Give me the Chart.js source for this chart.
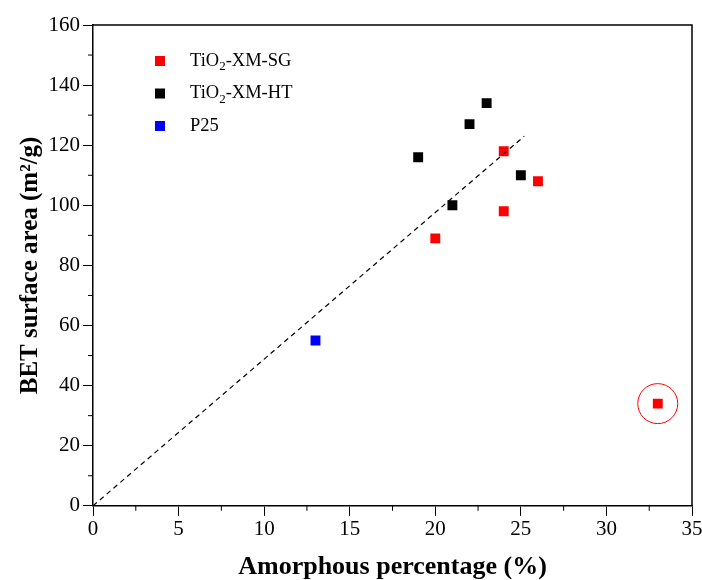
<!DOCTYPE html>
<html>
<head>
<meta charset="utf-8">
<script src="https://cdn.jsdelivr.net/npm/chart.js@4/dist/chart.umd.min.js"></script>
<style>
  html, body { margin: 0; background: #fff; overflow: hidden; }
  #wrap { width: 702px; height: 580px; overflow: hidden; }
</style>
</head>
<body>
<div id="wrap"><canvas id="chart" width="713" height="580"></canvas></div>
<script>
// Values
const sgX = [20, 24, 24, 26, 33];
const sgY = [89, 118, 98, 108, 34];
const htX = [19, 21, 22, 23, 25];
const htY = [116, 100, 127, 134, 110];
const p25X = [13];
const p25Y = [55];
const fitX = [0, 25.2];
const fitY = [0, 123];
const circledX = [33];
const circledY = [34];

const xMinorTicks = [2.5, 7.5, 12.5, 17.5, 22.5, 27.5, 32.5];
const yMinorTicks = [10, 30, 50, 70, 90, 110, 130, 150];

// legend entries: base text, subscript, rest
const legendItems = [
    { base: 'TiO', sub: '2', rest: '-XM-SG', color: '#ff0000' },
    { base: 'TiO', sub: '2', rest: '-XM-HT', color: '#000000' },
    { base: 'P25', sub: '', rest: '', color: '#0000ff' }
];

const serif = '"Liberation Serif", "DejaVu Serif", serif';

function toPoints(xs, ys) {
    return xs.map((x, i) => ({ x: x, y: ys[i] }));
}

// Frame, minor ticks and the inside legend
const decorPlugin = {
    id: 'decor',
    afterDraw(chart) {
        const ctx = chart.ctx;
        const a = chart.chartArea;
        const xs = chart.scales.x;
        const ys = chart.scales.y;
        ctx.save();
        ctx.strokeStyle = '#000';
        ctx.lineWidth = 1.5;
        ctx.beginPath();
        ctx.moveTo(a.left, a.top);
        ctx.lineTo(a.right, a.top);
        ctx.lineTo(a.right, a.bottom);
        ctx.stroke();

        ctx.lineWidth = 1;
        ctx.beginPath();
        xMinorTicks.forEach(v => {
            const px = xs.getPixelForValue(v);
            ctx.moveTo(px, a.bottom);
            ctx.lineTo(px, a.bottom + 5);
        });
        yMinorTicks.forEach(v => {
            const py = ys.getPixelForValue(v);
            ctx.moveTo(a.left, py);
            ctx.lineTo(a.left - 5, py);
        });
        ctx.stroke();

        // legend
        ctx.textBaseline = 'middle';
        legendItems.forEach((item, i) => {
            const my = a.top + 36 + i * 32.5;
            const mx = a.left + 67;
            ctx.fillStyle = item.color;
            ctx.fillRect(mx - 5, my - 5, 10, 10);
            ctx.fillStyle = '#000';
            let tx = a.left + 97;
            ctx.font = '18.5px ' + serif;
            ctx.fillText(item.base, tx, my);
            tx += ctx.measureText(item.base).width;
            if (item.sub) {
                ctx.font = '13px ' + serif;
                ctx.fillText(item.sub, tx, my + 6);
                tx += ctx.measureText(item.sub).width;
            }
            ctx.font = '18.5px ' + serif;
            ctx.fillText(item.rest, tx, my);
        });
        ctx.restore();
    }
};

new Chart(document.getElementById('chart'), {
    type: 'scatter',
    data: {
        datasets: [
            {
                label: 'fit',
                type: 'line',
                data: toPoints(fitX, fitY),
                borderColor: '#000',
                borderWidth: 1.2,
                borderDash: [5, 4],
                pointRadius: 0,
                fill: false
            },
            {
                label: 'TiO2-XM-SG',
                data: toPoints(sgX, sgY),
                pointStyle: 'rect',
                pointRadius: 7,
                backgroundColor: '#ff0000',
                borderWidth: 0
            },
            {
                label: 'TiO2-XM-HT',
                data: toPoints(htX, htY),
                pointStyle: 'rect',
                pointRadius: 7,
                backgroundColor: '#000000',
                borderWidth: 0
            },
            {
                label: 'P25',
                data: toPoints(p25X, p25Y),
                pointStyle: 'rect',
                pointRadius: 7,
                backgroundColor: '#0000ff',
                borderWidth: 0
            },
            {
                label: 'outlier',
                data: toPoints(circledX, circledY),
                pointStyle: 'circle',
                pointRadius: 20,
                backgroundColor: 'rgba(0,0,0,0)',
                borderColor: '#ff0000',
                borderWidth: 1
            }
        ]
    },
    options: {
        responsive: false,
        animation: false,
        events: [],
        layout: { padding: { top: 25, right: 0, left: 11, bottom: 0 } },
        plugins: {
            legend: { display: false },
            tooltip: { enabled: false }
        },
        scales: {
            x: {
                type: 'linear',
                min: 0,
                max: 35,
                ticks: {
                    stepSize: 5,
                    color: '#000',
                    font: { family: serif, size: 21 },
                    padding: 1
                },
                grid: {
                    drawOnChartArea: false,
                    drawTicks: true,
                    tickLength: 10,
                    color: '#000'
                },
                border: { display: true, color: '#000', width: 1.5 },
                title: {
                    display: true,
                    text: 'Amorphous percentage (%)',
                    color: '#000',
                    font: { family: serif, size: 26, weight: 'bold', lineHeight: 1 },
                    padding: { top: 11, bottom: 0 }
                }
            },
            y: {
                min: 0,
                max: 160,
                ticks: {
                    stepSize: 20,
                    color: '#000',
                    font: { family: serif, size: 21 },
                    padding: 3
                },
                grid: {
                    drawOnChartArea: false,
                    drawTicks: true,
                    tickLength: 10,
                    color: '#000'
                },
                border: { display: true, color: '#000', width: 1.5 },
                title: {
                    display: true,
                    text: 'BET surface area (m²/g)',
                    color: '#000',
                    font: { family: serif, size: 25, weight: 'bold', lineHeight: 1 },
                    padding: { top: 7.5, bottom: 2 }
                }
            }
        }
    },
    plugins: [decorPlugin]
});
</script>
</body>
</html>
